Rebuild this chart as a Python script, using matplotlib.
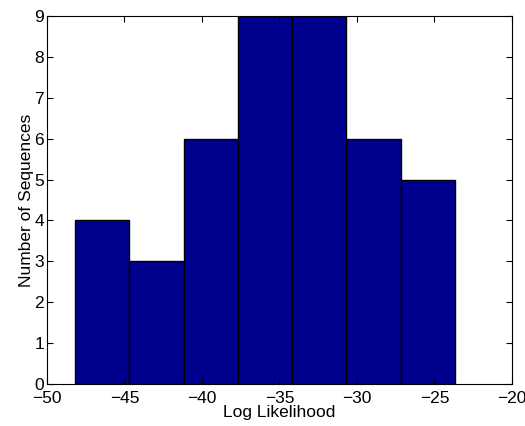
import matplotlib
matplotlib.use("Agg")
import matplotlib.pyplot as plt
import numpy as np

plt.rcParams['font.family'] = ['Liberation Sans', 'DejaVu Sans']

bin_edges = [-48.19, -44.69, -41.18, -37.68, -34.17, -30.69, -27.18, -23.68]
counts = [4, 3, 6, 9, 9, 6, 5]
x_ticks = [-50, -45, -40, -35, -30, -25, -20]
y_ticks = [0, 1, 2, 3, 4, 5, 6, 7, 8, 9]

fig = plt.figure(figsize=(5.25, 4.26), dpi=100)
ax = fig.add_axes([0.0895, 0.0986, 0.8857, 0.8638])

edges = np.array(bin_edges)
ax.bar(edges[:-1], counts, width=np.diff(edges), align='edge',
       color='#00008F', edgecolor='black', linewidth=1.0)

ax.set_xlim(-50, -20)
ax.set_ylim(0, 9)
ax.set_xticks(x_ticks)
ax.set_yticks(y_ticks)
ax.tick_params(direction='in', top=True, right=True, length=4, labelsize=12.5)
ax.tick_params(axis='x', pad=5)
ax.tick_params(axis='y', pad=2)
for s in ax.spines.values():
    s.set_linewidth(0.8)
ax.set_xlabel('Log Likelihood', fontsize=12.5, labelpad=-1)
ax.set_ylabel('Number of Sequences', fontsize=12.5, labelpad=0)

fig.savefig('out.png', dpi=100)
